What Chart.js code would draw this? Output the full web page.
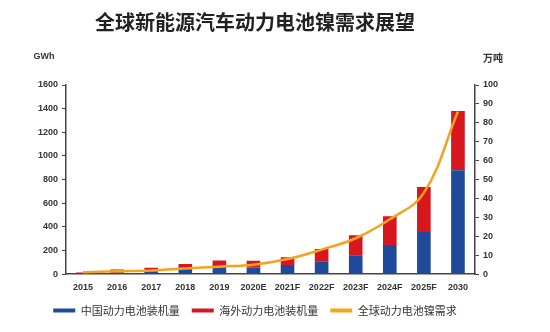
<!DOCTYPE html>
<html>
<head>
<meta charset="utf-8">
<script src="https://cdn.jsdelivr.net/npm/chart.js@4"></script>
<style>
  html, body { margin: 0; padding: 0; background: #fff; }
  #wrap { width: 550px; height: 332px; }
</style>
</head>
<body>
<div id="wrap"><canvas id="chart" width="550" height="332"></canvas></div>
<script>
// ----------- Data -----------
const years = ["2015","2016","2017","2018","2019","2020E","2021F","2022F","2023F","2024F","2025F","2030"];
const chinaGWh = [10, 12, 20, 48, 57, 57, 78, 110, 160, 246, 356, 880];
const overseasGWh = [5, 28, 34, 39, 59, 57, 66, 104, 170, 245, 381, 500];
const nickelDemand = [1, 1.5, 2, 3, 4, 5, 8, 13, 19, 29, 43, 86];

const seriesNames = ["中国动力电池装机量", "海外动力电池装机量", "全球动力电池镍需求"];
const titleText = "全球新能源汽车动力电池镍需求展望";

const BLUE = "#1f4a9b";
const RED = "#d8161e";
const ORANGE = "#f2a51c";
const AXIS = "#444";
const CJK = "'Noto Sans CJK SC', 'Liberation Sans', sans-serif";
const LAT = "'Liberation Sans', Arial, sans-serif";

// ----------- Axis unit labels -----------
const unitLabels = {
    id: "unitLabels",
    afterDraw(chart) {
        const ctx = chart.ctx;
        ctx.save();
        ctx.fillStyle = "#333";
        ctx.textBaseline = "middle";
        ctx.textAlign = "center";
        ctx.font = "bold 9px " + LAT;
        ctx.fillText("GWh", 44, 57);
        ctx.font = "bold 10px " + CJK;
        ctx.fillText("万吨", 493, 58);
        ctx.restore();
    }
};

const plainTick = v => String(v);

// ----------- Chart -----------
const ctx = document.getElementById("chart");
new Chart(ctx, {
    data: {
        labels: years,
        datasets: [
            {
                type: "line",
                label: seriesNames[2],
                data: nickelDemand,
                yAxisID: "y1",
                borderColor: ORANGE,
                backgroundColor: ORANGE,
                borderWidth: 2.5,
                pointRadius: 0,
                tension: 0.4,
                order: 0
            },
            {
                type: "bar",
                label: seriesNames[0],
                data: chinaGWh,
                yAxisID: "y",
                backgroundColor: BLUE,
                barPercentage: 0.4,
                categoryPercentage: 1,
                order: 1
            },
            {
                type: "bar",
                label: seriesNames[1],
                data: overseasGWh,
                yAxisID: "y",
                backgroundColor: RED,
                barPercentage: 0.4,
                categoryPercentage: 1,
                order: 1
            }
        ]
    },
    options: {
        responsive: false,
        animation: false,
        layout: { padding: { left: 0, right: 40, top: 0, bottom: 6 } },
        plugins: {
            title: {
                display: true,
                text: titleText,
                color: "#222",
                font: { family: CJK, size: 20, weight: "bold" },
                padding: { top: 10, bottom: 51 }
            },
            legend: {
                position: "bottom",
                labels: {
                    boxWidth: 22,
                    boxHeight: 4,
                    padding: 12,
                    color: "#333",
                    font: { family: CJK, size: 11 },
                    generateLabels(chart) {
                        const items = Chart.defaults.plugins.legend.labels.generateLabels(chart);
                        const order = [1, 2, 0];
                        return order.map(i => {
                            const it = items.find(x => x.datasetIndex === i);
                            it.lineWidth = 0;
                            it.fillStyle = chart.data.datasets[i].backgroundColor;
                            return it;
                        });
                    }
                }
            },
            tooltip: { enabled: false }
        },
        scales: {
            x: {
                stacked: true,
                offset: true,
                grid: { display: false },
                border: { display: true, color: AXIS, width: 1.5 },
                ticks: {
                    color: "#333",
                    maxRotation: 0,
                    autoSkip: false,
                    padding: 0,
                    font: { family: LAT, size: 9, weight: "bold" }
                }
            },
            y: {
                stacked: true,
                position: "left",
                min: 0,
                max: 1600,
                afterFit(scale) { scale.width = 66; },
                grid: { drawOnChartArea: false, drawTicks: true, tickLength: 4, color: AXIS },
                border: { display: true, color: AXIS, width: 1.5 },
                ticks: {
                    stepSize: 200,
                    color: "#333",
                    padding: 4,
                    callback: plainTick,
                    font: { family: LAT, size: 9, weight: "bold" }
                }
            },
            y1: {
                position: "right",
                min: 0,
                max: 100,
                afterFit(scale) { scale.width = 35; },
                grid: { drawOnChartArea: false, drawTicks: true, tickLength: 4, color: AXIS },
                border: { display: true, color: AXIS, width: 1.5 },
                ticks: {
                    stepSize: 10,
                    color: "#333",
                    padding: 4,
                    callback: plainTick,
                    font: { family: LAT, size: 9, weight: "bold" }
                }
            }
        }
    },
    plugins: [unitLabels]
});
</script>
</body>
</html>
